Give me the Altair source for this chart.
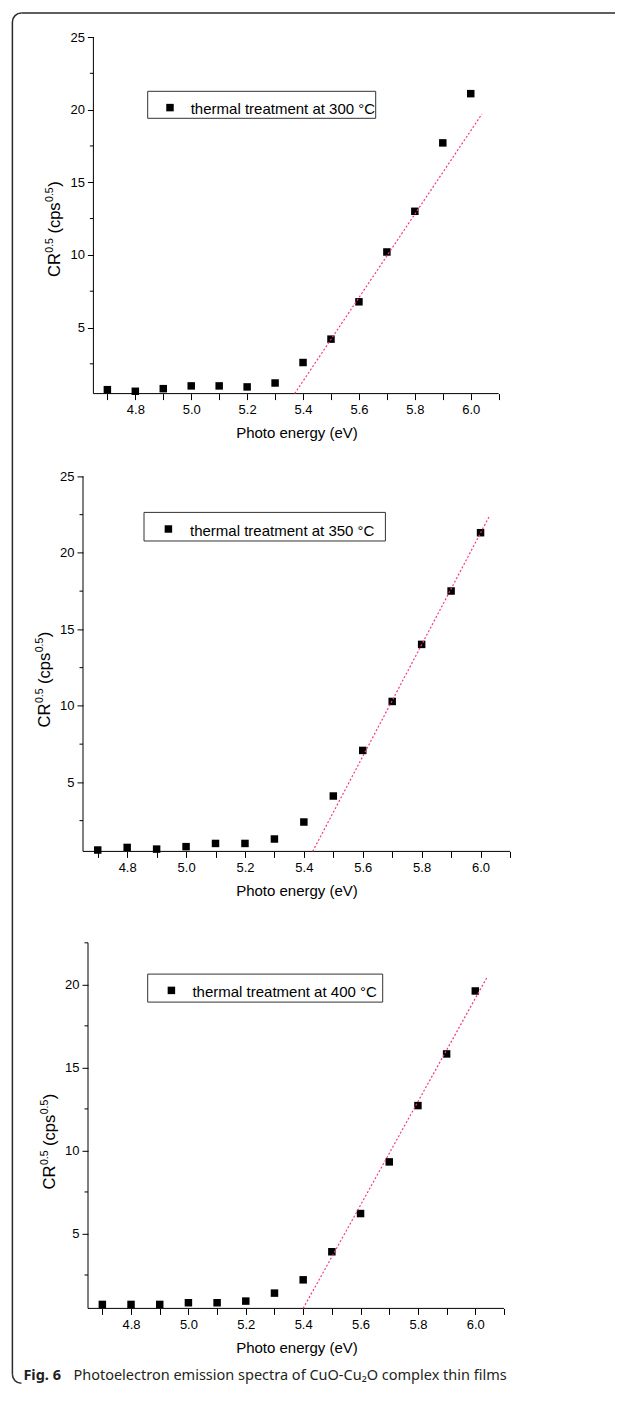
import math
import altair as alt
import pandas as pd

# ---------------- data ----------------
energy = [4.7, 4.8, 4.9, 5.0, 5.1, 5.2, 5.3, 5.4, 5.5, 5.6, 5.7, 5.8, 5.9, 6.0]
cr_300 = [0.72, 0.61, 0.79, 0.98, 0.98, 0.91, 1.18, 2.59, 4.20, 6.77, 10.20, 13.00, 17.71, 21.10]
cr_350 = [0.58, 0.75, 0.64, 0.80, 1.01, 1.01, 1.30, 2.41, 4.11, 7.09, 10.29, 14.02, 17.51, 21.32]
cr_400 = [0.73, 0.73, 0.73, 0.83, 0.83, 0.93, 1.41, 2.21, 3.90, 6.20, 9.31, 12.70, 15.81, 19.60]

fit_300_x = [5.37, 6.04]
fit_300_y = [0.45, 19.7]
fit_350_x = [5.43, 6.03]
fit_350_y = [0.49, 22.4]
fit_400_x = [5.40, 6.04]
fit_400_y = [0.49, 20.4]

legend_labels = [
    "thermal treatment at 300 °C",
    "thermal treatment at 350 °C",
    "thermal treatment at 400 °C",
]
x_ticks = [4.7, 4.8, 4.9, 5.0, 5.1, 5.2, 5.3, 5.4, 5.5, 5.6, 5.7, 5.8, 5.9, 6.0, 6.1]
y_major_25 = [5, 10, 15, 20, 25]
y_minor_25 = [2.5, 7.5, 12.5, 17.5, 22.5]
y_major_22 = [5, 10, 15, 20]
y_minor_22 = [2.5, 7.5, 12.5, 17.5, 22.5]
x_title = "Photo energy (eV)"
caption_bold = "Fig. 6"
caption_rest = "Photoelectron emission spectra of CuO-Cu₂O complex thin films"

# ---------------- layout ----------------
AX_FONT = "Liberation Sans"
CAP_FONT = "Noto Sans"
GROUP_LEFT = 82.3
GROUP_W = 427.0
SPACING = 82.4
XMIN, XMAX = 4.65, 6.1
FIT_COLOR = "#f5358f"
FRAME_COLOR = "#2a2a2a"

panels_spec = [
    dict(vals=cr_300, fx=fit_300_x, fy=fit_300_y, label=legend_labels[0],
         ymin=0.45, ymax=25, ymaj=y_major_25, ymin_t=y_minor_25,
         axis_left=92.7, axis_right=498.0, top=36.7, bottom=393.3, group_h=356.6,
         title_y=240, box=(64.7, 54.3, 292.7, 81.3), marker=(87.0, 70.6), text=(107.7, 76.6)),
    dict(vals=cr_350, fx=fit_350_x, fy=fit_350_y, label=legend_labels[1],
         ymin=0.49, ymax=25, ymaj=y_major_25, ymin_t=y_minor_25,
         axis_left=82.3, axis_right=509.3, top=475.7, bottom=850.7, group_h=383.6,
         title_y=251, box=(61.0, 36.0, 302.4, 64.6), marker=(85.4, 52.6), text=(107.0, 59.3)),
    dict(vals=cr_400, fx=fit_400_x, fy=fit_400_y, label=legend_labels[2],
         ymin=0.49, ymax=22.5, ymaj=y_major_22, ymin_t=y_minor_22,
         axis_left=87.3, axis_right=503.3, top=941.7, bottom=1307.3, group_h=365.6,
         title_y=246.6, box=(64.7, 31.3, 299.7, 59.3), marker=(88.4, 47.6), text=(109.4, 54.3)),
]

one = pd.DataFrame({"a": [0]})

CW = {"C": 0.722, "R": 0.722, "0": 0.556, ".": 0.278, "5": 0.556, " ": 0.278,
      "(": 0.333, "c": 0.5, "p": 0.556, "s": 0.5, ")": 0.333}


def twidth(s, size):
    return sum(CW.get(c, 0.55) for c in s) * size


def ytitle_layers(bx, by):
    # (text, font size, raise, gap after)
    segs = [("CR", 16.5, 0, 0.5), ("0.5", 10.5, 6.5, 4.5), ("(cps", 16.5, 0, 0.5),
            ("0.5", 10.5, 6.5, 0.5), (")", 16.5, 0, 0)]
    out = []
    cum = 0.0
    for txt, size, rz, gap in segs:
        out.append(
            alt.Chart(one).mark_text(text=txt, angle=270, align="left", baseline="alphabetic",
                                     fontSize=size, font=AX_FONT, color="black")
            .encode(x=alt.value(bx - rz), y=alt.value(by - cum))
        )
        cum += twidth(txt, size) + gap
    return out


def frame_layers():
    # outer frame: top and left edges with rounded left corners (rest cropped as in original)
    fl, ft, fr, fb, r, sw = -70.6, -24.0, 532.0, 1346.3, 9.0, 1.5
    out = [
        alt.Chart(one).mark_rule(color=FRAME_COLOR, strokeWidth=sw)
        .encode(x=alt.value(fl + r), x2=alt.value(fr), y=alt.value(ft)),
        alt.Chart(one).mark_rule(color=FRAME_COLOR, strokeWidth=sw)
        .encode(x=alt.value(fl), y=alt.value(ft + r), y2=alt.value(fb - r)),
        alt.Chart(one).mark_arc(color=FRAME_COLOR, radius=r + sw / 2, radius2=r - sw / 2,
                                theta=1.5 * math.pi, theta2=2 * math.pi)
        .encode(x=alt.value(fl + r), y=alt.value(ft + r)),
        alt.Chart(one).mark_arc(color=FRAME_COLOR, radius=r + sw / 2, radius2=r - sw / 2,
                                theta=math.pi, theta2=1.5 * math.pi)
        .encode(x=alt.value(fl + r), y=alt.value(fb - r)),
    ]
    return out


def make_panel(idx, p):
    ppx = (p["axis_right"] - p["axis_left"]) / (XMAX - XMIN)
    xdom = [XMIN - (p["axis_left"] - GROUP_LEFT) / ppx,
            XMAX + (GROUP_LEFT + GROUP_W - p["axis_right"]) / ppx]
    ppy = (p["bottom"] - p["top"]) / (p["ymax"] - p["ymin"])
    extra = p["top"] + p["group_h"] - p["bottom"]
    ydom = [p["ymin"] - extra / ppy, p["ymax"]]
    ax_off = p["axis_left"] - GROUP_LEFT

    xs = alt.Scale(domain=xdom, nice=False, zero=False)
    ys = alt.Scale(domain=ydom, nice=False, zero=False)
    xaxis = alt.Axis(values=x_ticks, domain=False, grid=False, tickSize=6, tickColor="black",
                     tickWidth=1, labelFontSize=13, labelFont=AX_FONT, labelColor="black",
                     labelPadding=4, labelOverlap=False, labelFlush=False,
                     labelExpr="abs(round(datum.value*10)) % 2 == 0 ? format(datum.value, '.1f') : ''",
                     title=x_title, titleFont=AX_FONT, titleFontSize=15, titleFontWeight="normal",
                     titleColor="black", titlePadding=9, offset=-extra)
    yaxis = alt.Axis(values=p["ymaj"], domain=False, grid=False, tickSize=6, tickColor="black",
                     tickWidth=1, labelFontSize=13, labelFont=AX_FONT, labelColor="black",
                     labelPadding=3, labelOverlap=False, labelFlush=False,
                     title=None, offset=-ax_off)
    X = lambda f: alt.X(f, scale=xs, axis=xaxis)
    Y = lambda f: alt.Y(f, scale=ys, axis=yaxis)

    df = pd.DataFrame({"E": energy, "CR": p["vals"]})
    layers = []
    # points (carry the axes)
    layers.append(
        alt.Chart(df).mark_square(size=56, color="black", opacity=1)
        .encode(x=X("E:Q"), y=Y("CR:Q"))
    )
    # axis lines
    layers.append(
        alt.Chart(pd.DataFrame({"E": [XMIN], "E2": [XMAX], "CR": [p["ymin"]]}))
        .mark_rule(color="black", strokeWidth=1)
        .encode(x=X("E:Q"), x2="E2:Q", y=Y("CR:Q"))
    )
    layers.append(
        alt.Chart(pd.DataFrame({"E": [XMIN], "CR": [p["ymin"]], "CR2": [p["ymax"]]}))
        .mark_rule(color="black", strokeWidth=1)
        .encode(x=X("E:Q"), y=Y("CR:Q"), y2="CR2:Q")
    )
    # minor y ticks (shorter)
    layers.append(
        alt.Chart(pd.DataFrame({"CR": p["ymin_t"]}))
        .mark_rule(color="black", strokeWidth=1)
        .encode(y=Y("CR:Q"), x=alt.value(ax_off - 3.5), x2=alt.value(ax_off))
    )
    # fit line
    layers.append(
        alt.Chart(pd.DataFrame({"E": p["fx"], "CR": p["fy"]}))
        .mark_line(color=FIT_COLOR, strokeDash=[2, 2], strokeWidth=1.2)
        .encode(x=X("E:Q"), y=Y("CR:Q"))
    )
    # legend
    bx1, by1, bx2, by2 = p["box"]
    layers.append(
        alt.Chart(one).mark_rect(fill="white", stroke="#333333", strokeWidth=1)
        .encode(x=alt.value(bx1), x2=alt.value(bx2), y=alt.value(by1), y2=alt.value(by2))
    )
    layers.append(
        alt.Chart(one).mark_square(size=56, color="black", opacity=1)
        .encode(x=alt.value(p["marker"][0]), y=alt.value(p["marker"][1]))
    )
    layers.append(
        alt.Chart(one).mark_text(text=p["label"], align="left", baseline="alphabetic",
                                 fontSize=15, font=AX_FONT, color="black")
        .encode(x=alt.value(p["text"][0]), y=alt.value(p["text"][1]))
    )
    # y title
    layers += ytitle_layers(ax_off - 33.5, p["title_y"])

    if idx == 0:
        layers += frame_layers()
    if idx == 2:
        layers.append(
            alt.Chart(one).mark_text(text=caption_bold, align="left", baseline="alphabetic",
                                     fontSize=14.5, font=CAP_FONT, fontWeight="bold", color="#231f20")
            .encode(x=alt.value(-59.6), y=alt.value(436.8))
        )
        layers.append(
            alt.Chart(one).mark_text(text=caption_rest, align="left", baseline="alphabetic",
                                     fontSize=14.5, font=CAP_FONT, color="#231f20")
            .encode(x=alt.value(-9.6), y=alt.value(436.8))
        )

    return alt.layer(*layers).properties(width=GROUP_W, height=p["group_h"])


panels = [make_panel(i, p) for i, p in enumerate(panels_spec)]

chart = (
    alt.vconcat(*panels, spacing=SPACING, bounds="flush")
    .properties(padding={"left": 3, "top": 4, "right": 0, "bottom": 0})
    .configure_view(stroke=None)
)

chart.save("out.html", embed_options={"renderer": "svg", "actions": False})
